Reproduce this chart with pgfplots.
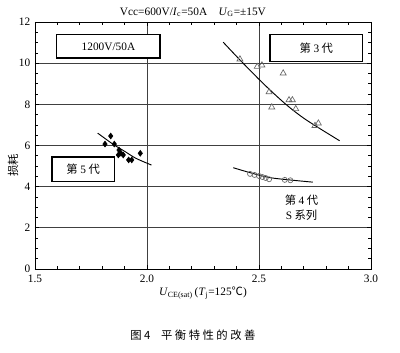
\documentclass[border=0pt]{standalone}
\usepackage{pgfplots}
\pgfplotsset{compat=1.18}
\usepackage{fontspec}
\setmainfont{Liberation Serif}
\newfontfamily\cjk{Noto Sans CJK SC}
\newfontfamily\cjkwide{Noto Sans CJK SC}[LetterSpace=22]
\begin{document}
\begin{tikzpicture}
\useasboundingbox (-26.25pt,-63pt) rectangle (273.75pt,201.75pt);
\begin{axis}[at={(0,0)}, anchor=south west, scale only axis,
  width=252pt, height=185.25pt,
  xmin=1.5, xmax=3.0, ymin=0, ymax=12,
  xtick={1.5,2.0,2.5,3.0}, xticklabels={1.5,2.0,2.5,3.0},
  ytick={0,2,4,6,8,10,12},
  minor x tick num=4, minor y tick num=3,
  tick align=inside,
  grid=major,
  major grid style={black!75, line width=0.7pt},
  axis line style={line width=0.6pt},
  tick style={black, line width=0.5pt},
  major tick length=3pt, minor tick length=2pt,
  clip=false,
  ticklabel style={font=\fontsize{8.5}{9}\selectfont},
  /pgf/number format/assume math mode=true,
  xticklabel style={yshift=-1pt},
]
% curves
\addplot[black, line width=0.7pt, smooth] coordinates {(1.78,6.6) (1.85,6.05) (1.9,5.72) (1.95,5.38) (2.02,5.05)};
\addplot[black, line width=0.7pt, smooth] coordinates {(2.34,11.02) (2.42,10.1) (2.52,9.0) (2.62,8.0) (2.71,7.25) (2.86,6.23)};
\addplot[black, line width=0.7pt, smooth] coordinates {(2.385,4.92) (2.47,4.65) (2.56,4.42) (2.74,4.22)};
% gen 5
\addplot[only marks, mark=diamond*, mark size=2.2pt, black] coordinates {
(1.838,6.46) (1.8125,6.07) (1.854,6.07) (1.875,5.78) (1.884,5.62) (1.872,5.54) (1.894,5.54) (1.918,5.30) (1.932,5.30) (1.970,5.62)};
% gen 3
\addplot[only marks, mark=triangle, mark size=2.6pt, black!60, mark options={line width=0.5pt}] coordinates {
(2.415,10.19) (2.492,9.83) (2.513,9.90) (2.608,9.51) (2.545,8.60) (2.634,8.21) (2.649,8.21) (2.557,7.86) (2.664,7.78) (2.75,6.96) (2.765,7.08)};
% gen 4
\addplot[only marks, mark=o, mark size=1.9pt, black!60, mark options={line width=0.5pt}] coordinates {
(2.46,4.62) (2.48,4.57) (2.50,4.52) (2.515,4.47) (2.53,4.42) (2.545,4.36) (2.615,4.33) (2.64,4.31)};
% boxes
\draw[line width=0.8pt, fill=white] (axis cs:1.598,11.37) rectangle (axis cs:2.058,10.25);
\node[font=\fontsize{8.5}{9}\selectfont] at (axis cs:1.828,10.81) {1200V/50A};
\draw[line width=0.8pt, fill=white] (axis cs:2.549,11.37) rectangle (axis cs:2.964,10.10);
\node[font=\cjk\fontsize{8.5}{9}\selectfont] at (axis cs:2.756,10.74) {第 {\rmfamily 3} 代};
\draw[line width=0.8pt, fill=white] (axis cs:1.576,5.44) rectangle (axis cs:1.853,4.23);
\node[font=\cjk\fontsize{8.5}{9}\selectfont] at (axis cs:1.715,4.84) {第 {\rmfamily 5} 代};
\node[font=\cjk\fontsize{8.5}{11}\selectfont, align=center] at (axis cs:2.69,2.98) {第 {\rmfamily 4} 代\\{\rmfamily S} 系列};
% labels
\node[font=\fontsize{8.5}{9}\selectfont, anchor=base] at ([yshift=5pt]rel axis cs:0.47,1) {Vcc=600V/\textit{I}\textsubscript{c}=50A\quad \textit{U}\textsubscript{G}=±15V};
\node[font=\fontsize{8.5}{9}\selectfont] at ([yshift=-18pt]rel axis cs:0.5,0) {\textit{U}\textsubscript{CE(sat)}\,(\textit{T}\textsubscript{j}=125{\cjk ℃})};
\node[font=\cjk\fontsize{8.5}{9}\selectfont, rotate=90] at ([xshift=-16.5pt]rel axis cs:0,0.42) {损耗};
\node[font=\fontsize{8.5}{9}\selectfont] at ([yshift=-49.5pt]rel axis cs:0.47,0) {\cjkwide 图4\hspace{8pt}平衡特性的改善};
\end{axis}
\end{tikzpicture}
\end{document}
